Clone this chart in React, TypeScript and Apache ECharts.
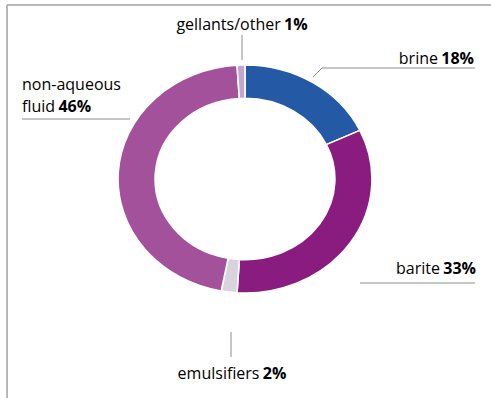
import React, { useEffect, useRef } from "react";
import * as echarts from "echarts";

const categories = ["brine", "barite", "emulsifiers", "non-aqueous\nfluid", "gellants/other"];
const shares = [18, 33, 2, 46, 1];
const sliceColors = ["#2459a6", "#8a1c80", "#d9d3de", "#a3519b", "#c3a6cf"];

// label placement (pixel layout, not data)
const labelSpots: { x: number; y: number; align: string; line: number[][] }[] = [
  { x: 474, y: 58, align: "right", line: [[313, 77], [322, 68], [475, 68]] },
  { x: 476, y: 268, align: "right", line: [[360, 283], [475, 283]] },
  { x: 232, y: 373, align: "center", line: [[231, 332], [231, 357]] },
  { x: 22, y: 95, align: "left", line: [[130, 119], [22, 119]] },
  { x: 242, y: 24, align: "center", line: [[242, 60], [242, 35]] },
];

const LINE_H = 22;
const rich = {
  n: { fontFamily: "Open Sans", fontSize: 16, color: "#6b6b6b" },
  p: { fontFamily: "Open Sans", fontSize: 16, fontWeight: "bold", color: "#3c3c3c" },
};

export default function App() {
  const pieRef = useRef<HTMLDivElement>(null);
  const labRef = useRef<HTMLDivElement>(null);
  useEffect(() => {
    if (!pieRef.current || !labRef.current) return;
    const pie = echarts.init(pieRef.current, undefined, { renderer: "svg" });
    pie.setOption({
      animation: false,
      series: [
        {
          type: "pie",
          center: [245, 179],
          radius: [85, 120],
          startAngle: 90,
          clockwise: true,
          label: { show: false },
          labelLine: { show: false },
          itemStyle: { borderColor: "#ffffff", borderWidth: 1.5 },
          emphasis: { disabled: true },
          data: categories.map((name, i) => ({
            name,
            value: shares[i],
            itemStyle: { color: sliceColors[i] },
          })),
        },
      ],
    });

    const labels = echarts.init(labRef.current, undefined, { renderer: "svg" });
    const elements: any[] = [
      { type: "line", shape: { x1: 7, y1: 5, x2: 491, y2: 5 }, style: { stroke: "#a0a0a0", lineWidth: 1.5 } },
      { type: "line", shape: { x1: 7, y1: 5, x2: 7, y2: 398 }, style: { stroke: "#a0a0a0", lineWidth: 1.5 } },
    ];
    categories.forEach((name, i) => {
      const spot = labelSpots[i];
      const parts = name.split("\n");
      const n = parts.length;
      parts.forEach((part, j) => {
        const isLast = j === n - 1;
        const txt = isLast ? `{n|${part}} {p|${shares[i]}%}` : `{n|${part}}`;
        elements.push({
          type: "text",
          x: spot.x,
          y: spot.y + (j - (n - 1) / 2) * LINE_H,
          style: {
            text: txt,
            rich,
            align: spot.align,
            verticalAlign: "middle",
            textAlign: spot.align,
            textVerticalAlign: "middle",
          },
        });
      });
      elements.push({
        type: "polyline",
        shape: { points: spot.line },
        style: { stroke: "#8c8c8c", lineWidth: 1, fill: "none" },
      });
    });
    labels.setOption({ animation: false, graphic: elements });

    return () => {
      pie.dispose();
      labels.dispose();
    };
  }, []);
  return (
    <div style={{ position: "fixed", left: 0, top: 0, width: 491, height: 398, background: "#ffffff" }}>
      <div
        ref={pieRef}
        style={{
          position: "absolute",
          left: 0,
          top: 0,
          width: 491,
          height: 398,
          transform: "scale(1.058, 0.95)",
          transformOrigin: "245px 179px",
        }}
      />
      <div ref={labRef} style={{ position: "absolute", left: 0, top: 0, width: 491, height: 398 }} />
    </div>
  );
}
